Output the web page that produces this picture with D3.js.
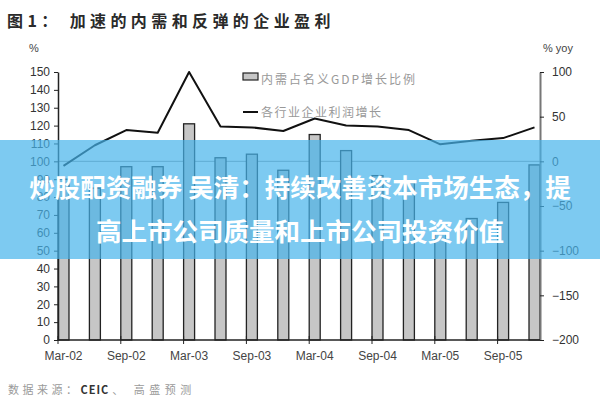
<!DOCTYPE html>
<html>
<head>
<meta charset="utf-8">
<script src="https://cdn.jsdelivr.net/npm/d3@7"></script>
<style>
  body { margin: 0; background: #fff; }
  svg { display: block; font-family: "Liberation Sans", Arial, sans-serif; }
  .cjk { font-family: "Noto Sans CJK SC", sans-serif; }
</style>
</head>
<body>
<svg id="chart" width="600" height="400"></svg>
<script>
// quarterly data, Mar-02 .. Dec-05
const quarters = ['Mar-02', 'Jun-02', 'Sep-02', 'Dec-02', 'Mar-03', 'Jun-03', 'Sep-03', 'Dec-03',
                  'Mar-04', 'Jun-04', 'Sep-04', 'Dec-04', 'Mar-05', 'Jun-05', 'Sep-05', 'Dec-05'];
// 内需占名义GDP增长比例 (%), left axis
const domesticShare = [90, 85, 97, 97, 121, 102, 104, 95, 115, 106, 92, 88, 60, 68, 77, 98];
// 各行业企业利润增长 (% yoy), right axis
const profitGrowth = [-5, 18, 35, 32, 100, 39, 38, 34, 48, 40, 39, 35, 19, 23, 26, 38];

const leftTicks = [0, 10, 20, 30, 40, 50, 60, 70, 80, 90, 100, 110, 120, 130, 140, 150];
const rightTicks = [100, 50, 0, -50, -100, -150, -200];
const xLabels = ['Mar-02', 'Sep-02', 'Mar-03', 'Sep-03', 'Mar-04', 'Sep-04', 'Mar-05', 'Sep-05'];

const svg = d3.select('#chart');

let margin = { top: 72, right: 60, bottom: 60, left: 58 };
let width = 600 - margin.left - margin.right,
    height = 400 - margin.top - margin.bottom;

let chart = svg.append('g')
  .attr('transform', `translate(${margin.left}, ${margin.top})`);

let x = d3.scaleBand()
  .domain(quarters)
  .range([0, width])
  .paddingInner(0.65)
  .paddingOuter(0);

let yLeft = d3.scaleLinear().domain([0, 150]).range([height, 0]);
let yRight = d3.scaleLinear().domain([-200, 100]).range([height, 0]);

// zero line of right axis
chart.append('line')
  .attr('x1', 0).attr('x2', width)
  .attr('y1', yRight(0)).attr('y2', yRight(0))
  .attr('stroke', '#9a9a9a')
  .attr('stroke-width', 1);

// bars
chart.append('g')
  .selectAll('rect')
  .data(domesticShare)
  .enter().append('rect')
    .attr('x', (d, i) => x(quarters[i]))
    .attr('y', (d) => yLeft(d))
    .attr('width', x.bandwidth())
    .attr('height', (d) => height - yLeft(d))
    .attr('fill', '#c6c6c6')
    .attr('stroke', '#222')
    .attr('stroke-width', 1.3);

// line
let line = d3.line()
  .x((d, i) => x(quarters[i]) + x.bandwidth() / 2)
  .y((d) => yRight(d));

chart.append('path')
  .datum(profitGrowth)
  .attr('fill', 'none')
  .attr('stroke', '#111')
  .attr('stroke-width', 2)
  .attr('stroke-linejoin', 'round')
  .attr('d', line);

// left axis
let leftAxis = chart.append('g')
  .call(d3.axisLeft(yLeft).tickValues(leftTicks).tickSize(4).tickSizeOuter(0).tickPadding(4));
leftAxis.select('.domain').attr('stroke', '#222').attr('stroke-width', 1.5);
leftAxis.selectAll('line').attr('stroke', '#222');
leftAxis.selectAll('text').attr('font-size', 12).attr('fill', '#333');

// right axis
let rightAxis = chart.append('g')
  .attr('transform', `translate(${width}, 0)`)
  .call(d3.axisRight(yRight).tickValues(rightTicks).tickSize(4).tickSizeOuter(0).tickPadding(8));
rightAxis.select('.domain').attr('stroke', '#777').attr('stroke-width', 2);
rightAxis.selectAll('line').attr('stroke', '#222');
rightAxis.selectAll('text').attr('font-size', 12).attr('fill', '#333');

// x axis
let xAxis = chart.append('g').attr('transform', `translate(0, ${height})`);
xAxis.append('line')
  .attr('x1', 0).attr('x2', width)
  .attr('stroke', '#222').attr('stroke-width', 1.5);
xAxis.selectAll('.tick')
  .data(xLabels)
  .enter().append('line')
    .attr('x1', (d) => x(d)).attr('x2', (d) => x(d))
    .attr('y1', -4).attr('y2', 4)
    .attr('stroke', '#222');
xAxis.selectAll('text')
  .data(xLabels)
  .enter().append('text')
    .attr('x', (d) => x(d) + x.bandwidth() / 2)
    .attr('y', 20)
    .attr('text-anchor', 'middle')
    .attr('font-size', 12)
    .attr('fill', '#444')
    .text((d) => d);

// unit labels
svg.append('text').attr('x', 34).attr('y', 52).attr('text-anchor', 'middle')
  .attr('font-size', 11).attr('fill', '#444').text('%');
svg.append('text').attr('x', 558).attr('y', 52).attr('text-anchor', 'middle')
  .attr('font-size', 11).attr('fill', '#444').text('% yoy');

// title
svg.append('text').attr('class', 'cjk')
  .attr('x', 7).attr('y', 27)
  .attr('font-size', 16).attr('font-weight', 'bold').attr('fill', '#2a2a2a')
  .attr('letter-spacing', 4.4)
  .text('图1： 加速的内需和反弹的企业盈利');

// legend
let legend = svg.append('g').attr('class', 'cjk');
legend.append('rect')
  .attr('x', 243).attr('y', 73).attr('width', 15).attr('height', 7)
  .attr('fill', '#c6c6c6').attr('stroke', '#222').attr('stroke-width', 1.2);
legend.append('text').attr('x', 261).attr('y', 84)
  .attr('font-size', 12).attr('fill', '#999').attr('letter-spacing', 2)
  .text('内需占名义GDP增长比例');
legend.append('line')
  .attr('x1', 243).attr('x2', 258).attr('y1', 112).attr('y2', 112)
  .attr('stroke', '#111').attr('stroke-width', 2);
legend.append('text').attr('x', 261).attr('y', 117)
  .attr('font-size', 12).attr('fill', '#999').attr('letter-spacing', 1.5)
  .text('各行业企业利润增长');

// source
let source = svg.append('text').attr('class', 'cjk')
  .attr('x', 8).attr('y', 394)
  .attr('font-size', 11).attr('fill', '#9a9a9a');
source.append('tspan').attr('letter-spacing', 3.5).text('数据来源：');
source.append('tspan').attr('font-weight', 'bold').attr('fill', '#333')
  .attr('letter-spacing', 1).text('CEIC');
source.append('tspan').attr('letter-spacing', 4.5).attr('dx', 3).text('、');
source.append('tspan').attr('letter-spacing', 4.5).attr('dx', 6).text('高盛预测');

// banner overlay
svg.append('rect')
  .attr('x', 0).attr('y', 140).attr('width', 600).attr('height', 119)
  .attr('fill', 'rgba(70, 180, 235, 0.7)');
let banner = svg.append('g').attr('class', 'cjk')
  .attr('font-size', 25.5).attr('font-weight', 'bold').attr('fill', '#fff')
  .attr('text-anchor', 'middle');
banner.append('text').attr('x', 300).attr('y', 197).text('炒股配资融券 吴清：持续改善资本市场生态，提');
banner.append('text').attr('x', 300).attr('y', 241).text('高上市公司质量和上市公司投资价值');
</script>
</body>
</html>
